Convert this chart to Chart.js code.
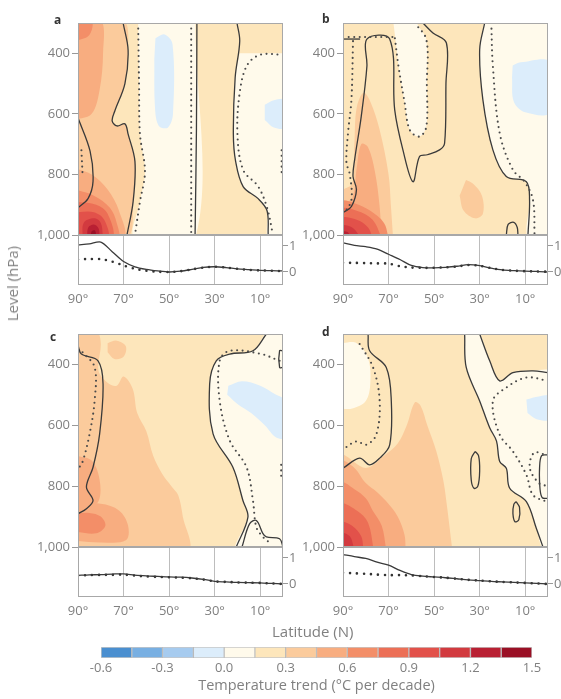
<!DOCTYPE html>
<html>
<head>
<meta charset="utf-8">
<script src="https://cdn.jsdelivr.net/npm/chart.js@4.4.1/dist/chart.umd.min.js"></script>
<style>
  body { margin: 0; background: #fff; }
  #wrap { position: relative; width: 561px; height: 699px; overflow: hidden; font-family: "Open Sans", sans-serif; color: #808080; }
  canvas { position: absolute; }
  .txt { position: absolute; font-size: 15px; white-space: nowrap; line-height: 18px; }
  .let { position: absolute; font-size: 12px; font-weight: bold; color: #333; }
</style>
</head>
<body>
<div id="wrap">
  <canvas id="ca" width="300" height="245" style="left:0;top:0"></canvas>
  <canvas id="cb" width="296" height="245" style="left:265px;top:0"></canvas>
  <canvas id="cc" width="300" height="247" style="left:0;top:310px"></canvas>
  <canvas id="cd" width="296" height="247" style="left:265px;top:310px"></canvas>
  <canvas id="pa" width="300" height="85" style="left:0;top:225px"></canvas>
  <canvas id="pb" width="296" height="85" style="left:265px;top:225px"></canvas>
  <canvas id="pc" width="300" height="85" style="left:0;top:537px"></canvas>
  <canvas id="pd" width="296" height="85" style="left:265px;top:537px"></canvas>
  <canvas id="bar" width="561" height="61" style="left:0;top:638px"></canvas>
  <div class="let" style="left:54px;top:11px">a</div>
  <div class="let" style="left:322px;top:10px">b</div>
  <div class="let" style="left:50px;top:328px">c</div>
  <div class="let" style="left:322px;top:323px">d</div>
  <div class="txt" style="left:3px;top:246px;writing-mode:vertical-rl;transform:rotate(180deg)">Level (hPa)</div>
  <div class="txt" style="left:272px;top:622px">Latitude (N)</div>
</div>
<script>
// tick labels
const levelTicks = [400, 600, 800, 1000];
const latTicks = [90, 70, 50, 30, 10];
const trendTicks = [0, 1];
const barTicks = [-0.6, -0.3, 0.0, 0.3, 0.6, 0.9, 1.2, 1.5];

// colour classes (degC per decade)
const levelEdges = [-0.6, -0.45, -0.3, -0.15, 0.0, 0.15, 0.3, 0.45, 0.6, 0.75, 0.9, 1.05, 1.2, 1.35, 1.5];
const levelColors = ['#4a8fd0', '#78afe2', '#a6cbef', '#dcedfb', '#fffaeb', '#fde6bb', '#fbcb9c',
  '#f8ad80', '#f38e68', '#ec6f56', '#e2514a', '#d23a3f', '#b92033', '#9a1025'];

// zonal-mean profiles below each panel
const lats = [90, 85, 80, 75, 70, 65, 60, 55, 50, 45, 40, 35, 30, 25, 20, 15, 10, 5, 0];
const aSolidT = [1.04, 1.08, 1.15, 0.78, 0.4, 0.2, 0.1, 0.04, 0.0, 0.03, 0.1, 0.18, 0.2, 0.17, 0.12, 0.09, 0.06, 0.05, 0.04];
const aDotT = [0.48, 0.5, 0.49, 0.4, 0.25, 0.12, 0.05, 0.01, 0.0, 0.03, 0.1, 0.17, 0.2, 0.17, 0.12, 0.08, 0.06, 0.05, 0.03];
const bSolidT = [1.12, 1.02, 0.97, 0.88, 0.68, 0.48, 0.25, 0.17, 0.16, 0.18, 0.22, 0.28, 0.24, 0.15, 0.08, 0.05, 0.03, 0.02, 0.0];
const bDotT = [0.35, 0.35, 0.34, 0.33, 0.32, 0.22, 0.17, 0.16, 0.16, 0.18, 0.21, 0.27, 0.24, 0.15, 0.08, 0.05, 0.03, 0.02, 0.01];
const cSolidT = [0.33, 0.35, 0.36, 0.38, 0.39, 0.34, 0.31, 0.29, 0.27, 0.26, 0.23, 0.18, 0.1, 0.08, 0.06, 0.05, 0.04, 0.02, 0.0];
const cDotT = [0.32, 0.34, 0.35, 0.35, 0.36, 0.32, 0.29, 0.27, 0.26, 0.24, 0.22, 0.17, 0.1, 0.08, 0.06, 0.05, 0.04, 0.02, 0.0];
const dSolidT = [1.13, 1.05, 0.98, 0.84, 0.72, 0.52, 0.36, 0.3, 0.27, 0.24, 0.2, 0.16, 0.13, 0.1, 0.08, 0.06, 0.04, 0.02, 0.0];
const dDotT = [0.43, 0.41, 0.39, 0.36, 0.34, 0.34, 0.33, 0.3, 0.27, 0.24, 0.2, 0.16, 0.13, 0.1, 0.08, 0.06, 0.04, 0.02, 0.0];

// ---- panel a: shaded regions [lat, hPa] ----
const aCreamMid = [[63.6,290],[63.2,500],[62.8,667],[60.6,790],[62.8,890],[65,1010],[38.5,1010],[38.5,290]];
const aCreamRight = [[19,400],[21,480],[21.8,665],[20.8,757],[17.5,840],[10.9,880],[7,920],[6.5,1010],[-1,1010],[-1,400]];
const aBlue1 = [[56,350],[52,338],[48.5,370],[48.3,600],[50.5,645],[54.5,640],[56.2,580],[56.5,420]];
const aBlue2 = [[8,570],[4,555],[-1,555],[-1,645],[4,645],[8,620]];
const aOr1 = [[91,290],[70.2,290],[68,390],[69.4,500],[73.8,590],[75,623],[72.9,640],[69.4,633],[68,667],[65,757],[65.8,890],[68.5,1010],[91,1010]];
const aOr2a = [[91,290],[80,290],[79,400],[80.5,520],[84,600],[91,620]];
const aOr2b = [[91,780],[84,800],[77,850],[72,920],[70,1010],[91,1010]];
const aOr3a = [[91,290],[84,290],[85,340],[91,360]];
const aOr3b = [[91,850],[83,870],[76,910],[73,960],[72.5,1010],[91,1010]];
const aR1 = [[91,890],[82,900],[77,930],[75,1010],[91,1010]];
const aR2 = [[91,925],[83,925],[78.5,950],[77,1010],[91,1010]];
const aR3 = [[88,1010],[87.5,960],[83,945],[80,960],[79,1010]];
const aR4 = [[86,1010],[85.5,975],[83,965],[81,978],[80.5,1010]];
const aR5 = [[84.5,1010],[84,988],[82.5,985],[82,1010]];
// panel a: contour lines
const aSolid1 = [[70.2,300],[68,390],[69.4,500],[73.8,590],[75,623],[72.9,640],[69.4,633],[68,667],[65,757],[65.8,890],[68.5,1000]];
const aSolid2 = [[37.8,300],[38,650],[38.6,1000]];
const aSolid3 = [[20.2,300],[19,360],[21,480],[21.8,665],[20.8,757],[17.5,840],[10.9,880],[7,920],[6.5,1000]];
const aSolid4 = [[90,613],[84.7,723],[83.4,823],[85.6,880],[90,910]];
const aDot1 = [[63.6,300],[63.2,500],[62.8,667],[60.6,790],[62.8,890],[65,1000]];
const aDot2 = [[40.3,300],[40.3,1000]];
const aDot3 = [[0,405],[10,405],[15.8,440],[19,530],[20,667],[17.5,785],[10.9,840],[7,910],[4.4,1000]];
const aDot4 = [[88.5,720],[88,800]];
const aDot5 = [[0.6,720],[0.6,800]];

// ---- panel b ----
const bCreamLoop = [[68,290],[67,353],[65.5,450],[63,560],[60.7,653],[56.4,675],[53.4,642],[53.2,500],[53.4,355],[56,320],[58.5,290]];
const bCreamRight = [[27.8,290],[30,388],[28.6,553],[24.2,719],[18.3,807],[9.5,824],[8.1,884],[8.8,1010],[-1,1010],[-1,290]];
const bBlue = [[15.5,440],[12,430],[-1,430],[-1,595],[10,595],[15,560],[15.8,480]];
const bOr1 = [[91,1010],[91,860],[86,830],[85,700],[84,580],[81,530],[78,560],[74,650],[70,800],[69,900],[68,1010]];
const bOr1b = [[36,818],[33,830],[29,870],[28.6,930],[32,945],[37,920],[38.8,870]];
const bOr2 = [[91,1010],[91,900],[86,880],[84,780],[82,700],[79,710],[76,790],[74,900],[73,1010]];
const bOr3 = [[91,1010],[91,890],[85,895],[78,920],[72,960],[70,1010]];
const bR1 = [[91,1010],[91,915],[84,920],[77,950],[73,1010]];
const bR2 = [[91,1010],[91,945],[84,950],[79,975],[77,1010]];
const bR3 = [[91,1010],[91,970],[86,975],[82,1010]];
const bR4 = [[91,1010],[91,990],[88,990],[86.5,1010]];
const bSolid1 = [[54.9,300],[50.5,333],[44.6,366],[44.8,500],[45.4,697],[47.6,719],[53,735],[56.4,741],[59.3,824],[63.7,719],[67.3,587],[69.5,353],[79.5,353],[79.5,443],[82,609],[84.9,752],[85.6,807],[84.1,851],[86.3,906],[89.3,923],[90,923]];
const bSolid2 = [[90,353],[82.5,353]];
const bSolid3 = [[27.8,300],[30,388],[28.6,553],[24.2,719],[18.3,807],[9.5,824],[8.1,884],[8.8,1000]];
const bSolid4 = [[18.3,1000],[17.5,965],[15,958],[13.5,975],[13.2,1000]];
const bDot1 = [[90,346],[67.3,346]];
const bDot2 = [[85.6,360],[86.3,553],[87.8,664],[88.5,760],[87,800],[86.3,884],[89.3,928]];
const bDot3 = [[58.5,300],[53.4,355],[53.2,500],[53.4,642],[56.4,675],[60.7,653],[63,560],[65.5,450],[67.3,346]];
const bDot4 = [[24.9,300],[24.2,443],[21.2,664],[15.4,785],[10.3,824],[6.6,884],[5.9,1000]];

// ---- panel c ----
const cOr1 = [[91,290],[82,290],[80,330],[81,420],[77,460],[73,470],[70,440],[66,480],[64,560],[60,620],[57,700],[53,760],[49,800],[46,830],[44,900],[42,1010],[91,1010]];
const cOr1b = [[77,330],[73,322],[69,340],[70,375],[74,382],[77,360]];
const cOr2a = [[91,700],[84,716],[80.5,780],[81,850],[86,870],[91,870]];
const cOr2b = [[91,860],[80,858],[72,880],[68,930],[69,978],[80,985],[91,980]];
const cOr3 = [[91,890],[85,888],[80,900],[78,930],[82,955],[91,950]];
const cCream = [[7.3,290],[13.2,355],[23.4,366],[29.3,388],[32.2,464],[30.7,628],[22,738],[17.6,847],[15.4,902],[20.5,1010],[-1,1010],[-1,290]];
const cBlue = [[24,470],[18,455],[10,470],[3,500],[-1,520],[-1,640],[3,640],[8,600],[14,560],[20,530],[24.5,500]];
const cSolid1 = [[90,338],[88.5,366],[81.2,388],[79,464],[80.5,628],[83.4,738],[86.3,803],[83.4,847],[86.3,874],[90,891]];
const cSolid2 = [[7.3,300],[13.2,355],[23.4,366],[29.3,388],[32.2,464],[30.7,628],[22,738],[17.6,847],[15.4,902],[20.5,1000]];
const cSolid3 = [[18,1000],[14.7,924],[11.7,913],[8.8,956],[7.3,967],[1.5,973],[0,1000]];
const cSolid4 = [[0,355],[1.5,355],[1.5,410],[0,410]];
const cDot1 = [[88,360],[82.7,409],[82.7,519],[84.9,628],[87.8,716],[89.5,740]];
const cDot2 = [[1.5,388],[10,365],[23.4,355],[27.8,388],[27.8,519],[23.4,650],[16,738],[13.2,847],[11.7,935],[8.8,967],[6,985]];
const cDot3 = [[0.8,730],[0.8,780]];

// ---- panel d ----
const dCream = [[91,330],[84,330],[79,380],[78,460],[80,520],[86,545],[91,545]];
const dCreamRight = [[36.6,290],[35.9,410],[30,520],[25.6,608],[22.6,652],[21.2,719],[18.3,741],[16.8,807],[9.5,851],[5.1,939],[2.2,1010],[-1,1010],[-1,427],[6.6,421],[15.4,427],[21.2,454],[25.6,388],[30,290]];
const dBlue = [[9.5,515],[4,505],[-1,505],[-1,580],[5,580],[9,560]];
const dOr1 = [[91,1010],[91,700],[80,740],[72,700],[66,660],[62,600],[58.5,525],[56,535],[53,600],[49,686],[46,780],[44.6,851],[42,1010]];
const dOr2 = [[91,1010],[91,719],[85,740],[80,790],[75,820],[71,850],[66,900],[63,960],[62.5,1010]];
const dOr3 = [[91,1010],[91,790],[85,810],[80,840],[77,880],[73,930],[71,1010]];
const dR1 = [[91,1010],[91,860],[84,880],[79,920],[76.5,1010]];
const dR2 = [[91,1010],[91,920],[86,930],[82,965],[81,1010]];
const dR3 = [[91,1010],[91,955],[87,965],[85,1010]];
const dSolid1 = [[79,300],[78.3,355],[71,410],[68.8,520],[69.5,664],[73.9,708],[78.3,730],[82.7,708],[90,741]];
const dSolid2 = [[30,300],[25.6,388],[21.2,454],[15.4,427],[6.6,421],[0,427]];
const dSolid3 = [[36.6,300],[35.9,410],[30,520],[25.6,608],[22.6,652],[21.2,719],[18.3,741],[16.8,807],[9.5,851],[5.1,939],[2.2,1000]];
const dSolid4 = [[32,686],[30.5,700],[30,750],[30.8,800],[32.5,807],[33.7,780],[33.7,710],[32,686]];
const dSolid5 = [[14,851],[12.5,870],[12.8,910],[14.5,917],[15.4,890],[15,860],[14,851]];
const dSolid6 = [[0,697],[2.8,700],[3.7,740],[3.5,810],[2.5,838],[0,840]];
const dDot1 = [[82.7,333],[76.8,410],[73.9,520],[75.4,631],[79.8,664],[84.1,653],[89.3,675]];
const dDot2 = [[0,454],[9.5,443],[18.3,476],[24.2,520],[21.2,631],[15.4,686],[9.5,763],[6.6,829],[0.7,851]];
const dDot3 = [[0,700],[6,690],[8,740],[4,790],[0,800]];

const panels = {
  ca: { regions: [[4,aCreamMid],[4,aCreamRight],[3,aBlue1],[3,aBlue2],[6,aOr1],[7,aOr2a],[7,aOr2b],[8,aOr3a],[8,aOr3b],[9,aR1],[10,aR2],[11,aR3],[12,aR4],[13,aR5]],
        solid: [aSolid1,aSolid2,aSolid3,aSolid4], dots: [aDot1,aDot2,aDot3,aDot4,aDot5] },
  cb: { regions: [[4,bCreamLoop],[4,bCreamRight],[3,bBlue],[6,bOr1],[6,bOr1b],[7,bOr2],[8,bOr3],[9,bR1],[10,bR2],[11,bR3],[12,bR4]],
        solid: [bSolid1,bSolid2,bSolid3,bSolid4], dots: [bDot1,bDot2,bDot3,bDot4] },
  cc: { regions: [[6,cOr1],[6,cOr1b],[7,cOr2a],[7,cOr2b],[8,cOr3],[4,cCream],[3,cBlue]],
        solid: [cSolid1,cSolid2,cSolid3,cSolid4], dots: [cDot1,cDot2,cDot3] },
  cd: { regions: [[4,dCream],[4,dCreamRight],[3,dBlue],[6,dOr1],[7,dOr2],[8,dOr3],[9,dR1],[10,dR2],[11,dR3]],
        solid: [dSolid1,dSolid2,dSolid3,dSolid4,dSolid5,dSolid6], dots: [dDot1,dDot2,dDot3] }
};

Chart.defaults.font.family = '"Open Sans", sans-serif';
Chart.defaults.font.size = 13;
Chart.defaults.color = '#808080';
Chart.defaults.animation = false;
Chart.defaults.responsive = false;
Chart.defaults.devicePixelRatio = 1;
Chart.defaults.plugins.legend.display = false;
Chart.defaults.plugins.tooltip.enabled = false;

const pts = arr => arr.map(p => ({ x: p[0], y: p[1] }));

const areaBox = {
  id: 'areaBox',
  beforeDatasetsDraw(chart, args, opts) {
    const a = chart.chartArea, ctx = chart.ctx;
    if (opts.fill) { ctx.save(); ctx.fillStyle = opts.fill; ctx.fillRect(a.left, a.top, a.width, a.height); ctx.restore(); }
  },
  afterDraw(chart) {
    const a = chart.chartArea, ctx = chart.ctx;
    ctx.save(); ctx.strokeStyle = '#a8a8a8'; ctx.lineWidth = 1;
    ctx.strokeRect(Math.round(a.left) + 0.5, Math.round(a.top) + 0.5, Math.round(a.width) - 1, Math.round(a.height) - 1);
    ctx.restore();
  }
};

function contour(id, cfg, padRight, padTop) {
  const ds = [];
  cfg.regions.forEach(r => ds.push({ data: pts(r[1]), showLine: true, fill: 'shape', backgroundColor: levelColors[r[0]],
    borderWidth: 0, pointRadius: 0, tension: 0.35 }));
  cfg.solid.forEach(l => ds.push({ data: pts(l), showLine: true, fill: false, borderColor: '#3a3a3a',
    borderWidth: 1.3, pointRadius: 0, tension: 0.35 }));
  cfg.dots.forEach(l => ds.push({ data: pts(l), showLine: true, fill: false, borderColor: '#4a4a4a',
    borderWidth: 2.1, borderDash: [0, 5.5], borderCapStyle: 'round', pointRadius: 0, tension: 0.35 }));
  ds.forEach((d, i) => { d.order = ds.length - i; });
  new Chart(document.getElementById(id), {
    type: 'scatter',
    data: { datasets: ds },
    options: {
      layout: { padding: { top: padTop, right: padRight, bottom: 10, left: 0 } },
      scales: {
        x: { type: 'linear', min: 0, max: 90, reverse: true, display: false },
        y: { type: 'linear', min: 300, max: 1000, reverse: true,
             afterBuildTicks: s => { s.ticks = levelTicks.map(v => ({ value: v })); },
             afterFit: s => { s.width = 78; },
             grid: { drawOnChartArea: false, tickLength: 6, color: '#999' },
             border: { display: false },
             ticks: { padding: 2 } }
      },
      plugins: { areaBox: { fill: levelColors[5] } }
    },
    plugins: [areaBox]
  });
}

function profile(id, solid, dotted, rightW) {
  const line = vals => lats.map((x, i) => ({ x: x, y: vals[i] }));
  new Chart(document.getElementById(id), {
    type: 'scatter',
    data: { datasets: [
      { data: line(solid), showLine: true, borderColor: '#3a3a3a', borderWidth: 1.3, pointRadius: 0, tension: 0.3 },
      { data: line(dotted), showLine: true, borderColor: '#333', borderWidth: 2.6, borderDash: [0, 7],
        borderCapStyle: 'round', pointRadius: 0, tension: 0.3 }
    ] },
    options: {
      layout: { padding: { top: 10, left: 78, right: 0, bottom: 0 } },
      scales: {
        x: { type: 'linear', min: 0, max: 90, reverse: true,
             afterBuildTicks: s => { s.ticks = latTicks.map(v => ({ value: v })); },
             afterFit: s => { s.height = 25; },
             grid: { color: '#bdbdbd', drawTicks: false },
             border: { display: false },
             ticks: { padding: 6, callback: v => v + '°' } },
        y: { type: 'linear', position: 'right', min: -0.5, max: 1.42,
             afterBuildTicks: s => { s.ticks = trendTicks.map(v => ({ value: v })); },
             afterFit: s => { s.width = rightW; },
             grid: { drawOnChartArea: false, tickLength: 5, color: '#999' },
             border: { display: false },
             ticks: { padding: 1 } }
      }
    },
    plugins: [areaBox]
  });
}

contour('ca', panels.ca, 17, 23);
contour('cb', panels.cb, 13, 23);
contour('cc', panels.cc, 17, 24);
contour('cd', panels.cd, 13, 24);
profile('pa', aSolidT, aDotT, 17);
profile('pb', bSolidT, bDotT, 13);
profile('pc', cSolidT, cDotT, 17);
profile('pd', dSolidT, dDotT, 13);

// colour bar
new Chart(document.getElementById('bar'), {
  type: 'bar',
  data: { labels: [''], datasets: levelColors.map((c, i) => ({
    data: [[levelEdges[i], levelEdges[i + 1]]], backgroundColor: c, borderColor: 'rgba(130,130,130,0.45)',
    borderWidth: 1, borderSkipped: false, grouped: false, barPercentage: 1, categoryPercentage: 1 })) },
  options: {
    indexAxis: 'y',
    layout: { padding: { top: 9, left: 101, right: 29, bottom: 0 } },
    scales: {
      y: { display: false },
      x: { type: 'linear', min: -0.6, max: 1.5,
           afterBuildTicks: s => { s.ticks = barTicks.map(v => ({ value: v })); },
           afterFit: s => { s.height = 41; },
           grid: { display: false, drawTicks: false }, border: { display: false },
           ticks: { padding: 2, callback: v => v.toFixed(1) },
           title: { display: true, text: 'Temperature trend (°C per decade)', padding: { top: 0 }, font: { size: 14.5 } } }
    }
  }
});
</script>
</body>
</html>
